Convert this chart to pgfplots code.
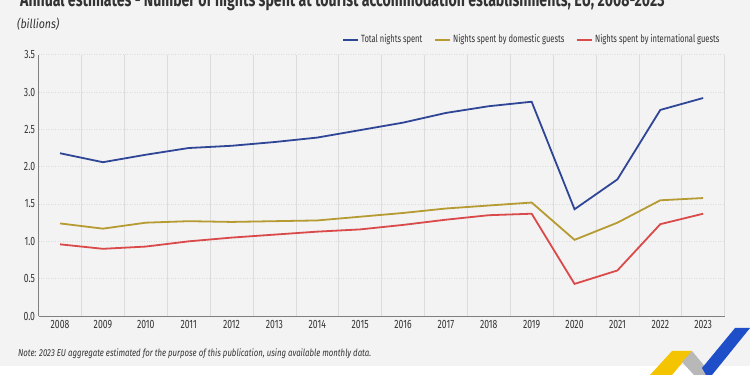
\documentclass[border=0pt]{standalone}
\usepackage{fontspec}
\setmainfont{Fira Sans}[FakeStretch=0.72]
\newfontfamily\notefont{Fira Sans}[FakeStretch=0.78]
\newfontfamily\billfont{Fira Sans}[FakeStretch=0.85]
\usepackage{pgfplots}
\pgfplotsset{compat=1.18}
\definecolor{bg}{HTML}{F3F3F3}
\definecolor{cblue}{HTML}{2F4596}
\definecolor{cgold}{HTML}{B59B32}
\definecolor{cred}{HTML}{DA4A4A}
\definecolor{gridc}{HTML}{DCDCDC}
\definecolor{txt}{HTML}{333333}
\definecolor{logoyel}{HTML}{F5C400}
\definecolor{logoblue}{HTML}{1E4FC8}
\definecolor{logogrey}{HTML}{B8B8B8}
\begin{document}
\begin{tikzpicture}[x=1pt,y=1pt]
\clip (0,0) rectangle (750,375);
\fill[white] (0,0) rectangle (750,375);
\fill[bg] (0,9) rectangle (750,375);
\node[anchor=base west,inner sep=0,text=txt,font=\fontsize{19.6}{24}\selectfont\bfseries] at (20,368) {Annual estimates - Number of nights spent at tourist accommodation establishments, EU, 2008-2023};
\node[anchor=west,inner sep=0,text=txt,font=\fontsize{12.5}{14}\billfont\itshape] at (17,351) {(billions)};
\node[anchor=west,inner sep=0,text=txt,font=\fontsize{10}{12}\notefont\itshape] at (18,21) {Note: 2023 EU aggregate estimated for the purpose of this publication, using available monthly data.};
\begin{axis}[
  at={(38.6pt,59pt)}, anchor=south west,
  scale only axis, width=686pt, height=261.3pt,
  xmin=-0.5, xmax=15.5, ymin=0, ymax=3.5,
  xtick={0,...,15},
  xticklabels={2008,2009,2010,2011,2012,2013,2014,2015,2016,2017,2018,2019,2020,2021,2022,2023},
  minor xtick={0.5,1.5,...,15.5},
  ytick={0,0.5,...,3.5},
  yticklabel style={/pgf/number format/.cd,fixed,fixed zerofill,precision=1},
  /pgf/number format/assume math mode=true,
  ticklabel style={font=\fontsize{12}{14}\selectfont, text=txt},
  xticklabel style={yshift=-1pt},
  xmajorgrids=false, xminorgrids=true, ymajorgrids=true,
  minor x grid style={gridc, line width=0.6pt},
  major y grid style={gridc, dotted, line width=0.8pt},
  axis x line*=bottom, axis y line*=left,
  axis line style={gray, line width=0.6pt, -},
  major tick length=0pt, minor tick length=0pt,
  axis background/.style={fill=bg},
  legend columns=3,
  legend style={at={(1,1)}, anchor=south east, yshift=6pt, draw=none, fill=none,
    font=\fontsize{10.5}{12}\selectfont, text=txt,
    /tikz/every even column/.append style={column sep=10pt}},
  legend image code/.code={\draw[#1, line width=1.8pt] (0pt,0pt) -- (15pt,0pt);},
  every axis plot/.append style={line width=1.8pt},
]
\addplot[cblue] coordinates {(0,2.18) (1,2.06) (2,2.16) (3,2.25) (4,2.28) (5,2.33) (6,2.39) (7,2.49) (8,2.59) (9,2.72) (10,2.81) (11,2.87) (12,1.43) (13,1.83) (14,2.76) (15,2.92)};
\addlegendentry{Total nights spent}
\addplot[cgold] coordinates {(0,1.24) (1,1.17) (2,1.25) (3,1.27) (4,1.26) (5,1.27) (6,1.28) (7,1.33) (8,1.38) (9,1.44) (10,1.48) (11,1.52) (12,1.02) (13,1.25) (14,1.55) (15,1.58)};
\addlegendentry{Nights spent by domestic guests}
\addplot[cred] coordinates {(0,0.96) (1,0.90) (2,0.93) (3,1.00) (4,1.05) (5,1.09) (6,1.13) (7,1.16) (8,1.22) (9,1.29) (10,1.35) (11,1.37) (12,0.43) (13,0.61) (14,1.23) (15,1.37)};
\addlegendentry{Nights spent by international guests}
\end{axis}
\fill[logoyel] (650,0) -- (672,24) -- (692,24) -- (672,0) -- cycle;
\fill[logogrey] (692,24) -- (712,0) -- (694,0) -- (682,13) -- cycle;
\fill[logoblue] (702,7) -- (735,47) -- (750,47) -- (712,0) -- (706,0) -- cycle;
\end{tikzpicture}
\end{document}
